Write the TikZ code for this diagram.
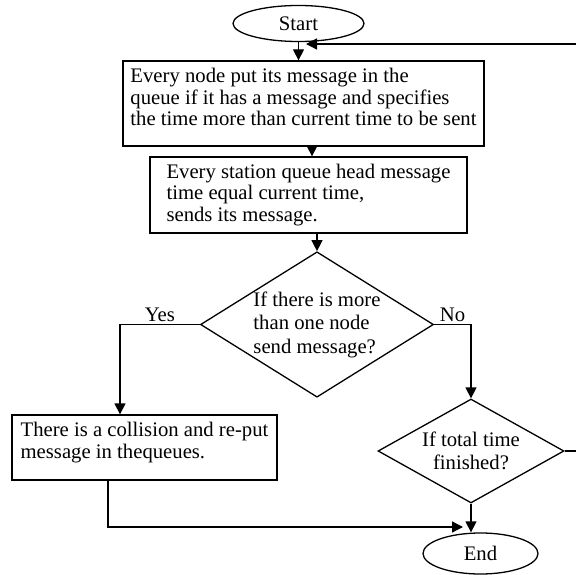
\documentclass[tikz,border=0pt]{standalone}
\usepackage{fontspec}
\setmainfont{Liberation Serif}
\usetikzlibrary{shapes.geometric,arrows.meta}

\begin{document}
\begin{tikzpicture}[x=1pt, y=1pt, line width=1.3pt,
  font=\fontsize{20.7}{21.7}\selectfont,
  flow/.style={-{Triangle[length=11pt,width=11pt]}},
  terminal/.style={draw, ellipse, inner sep=0pt},
  procbox/.style={draw, rectangle, align=left, inner sep=0pt},
  decide/.style={draw, diamond, inner sep=0pt, font=\fontsize{20.7}{23.5}\selectfont}]
\useasboundingbox (0,0) rectangle (576,-575);
\clip (0,0) rectangle (576,-575);

\node[terminal, minimum width=131pt, minimum height=36pt] (start) at (298.5,-23.5) {Start};
\node[procbox, minimum width=361pt, minimum height=85pt] (putmsg) at (303.5,-103.5)
  {Every node put its message in the\\queue if it has a message and specifies\\the time more than current time to be sent\rule[-13pt]{0pt}{13pt}};
\node[procbox, minimum width=317pt, minimum height=76pt] (headsend) at (308.5,-195)
  {Every station queue head message\\time equal current time,\\sends its message.};
\node[decide, align=left, aspect=1.6, minimum width=233pt, minimum height=145pt] (manysend) at (317,-324.5)
  {If there is more\\than one node\\send message?};
\node[procbox, minimum width=265pt, minimum height=65pt] (collide) at (144.5,-447.5)
  {There is a collision and re-put\\message in thequeues.\rule[-14pt]{0pt}{14pt}};
\node[decide, align=center, aspect=1.8, minimum width=186pt, minimum height=104pt] (timeup) at (471,-451)
  {If total time\\finished?};
\node[terminal, minimum width=115pt, minimum height=41pt] (finish) at (480.5,-553.5) {End};

\coordinate (loopin) at (306,-44);
\coordinate (merge) at (463,-527);

% main line
\draw[flow] (start.south) -- (start.south |- putmsg.north);
\draw[flow] ([xshift=3.5pt]headsend.north |- putmsg.south) -- ([xshift=3.5pt]headsend.north);
\draw[flow] (manysend.north |- headsend.south) -- (manysend.north);
\draw[flow] (manysend.west) -| node[pos=.25, above, inner sep=2pt] (yes) {Yes} ([xshift=-24.5pt]collide.north);
\draw[flow] (manysend.east) -| node[pos=.25, above, inner sep=2pt] (no) {No} (timeup.north);
\draw[flow] (timeup.south) -- (timeup.south |- finish.north);
\draw[flow] ([xshift=-36.5pt]collide.south) |- (merge);
% back to the top
\draw[flow] (timeup.east) -- ++(16,0) |- (loopin);
\end{tikzpicture}
\end{document}
